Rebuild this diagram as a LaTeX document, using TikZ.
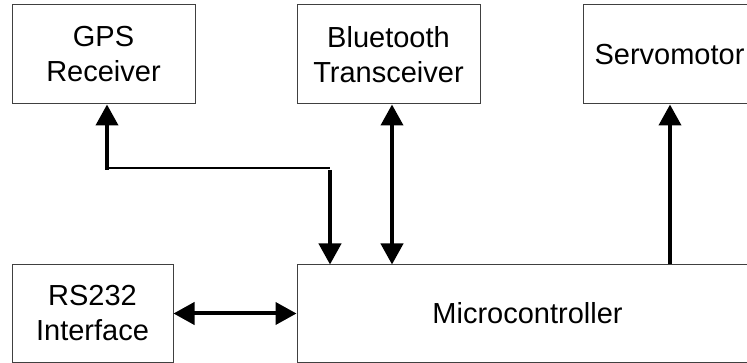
\documentclass[tikz,border=0pt]{standalone}
\usepackage{fontspec}
\setmainfont{Liberation Sans}
\usetikzlibrary{arrows.meta}
\begin{document}
\begin{tikzpicture}[x=1pt,y=-1pt,
  block/.style={draw=black!75, line width=1pt, fill=white, inner sep=0pt,
    align=center, font=\fontsize{29}{35}\selectfont},
  bus/.style={line width=4pt, -{Triangle[width=22pt,length=21pt]}},
  dbus/.style={line width=4pt, {Triangle[width=22pt,length=21pt]}-{Triangle[width=22pt,length=21pt]}},
  wire/.style={line width=1.3pt}]
  \useasboundingbox (0,0) rectangle (747,363);
  \clip (0,0) rectangle (747,363);

  % blocks
  \node[block, minimum width=183pt, minimum height=99pt] (gps) at (103.5,54.5) {GPS\\Receiver};
  \node[block, minimum width=183pt, minimum height=99pt] (bt) at (388.5,54.5) {Bluetooth\\Transceiver};
  \node[block, minimum width=173pt, minimum height=99pt] (servo) at (669.5,54.5) {Servomotor};
  \node[block, minimum width=161pt, minimum height=97pt] (rs) at (92.5,313.5) {RS232\\Interface};
  \node[block, minimum width=461pt, minimum height=97pt] (mcu) at (527.5,313.5) {Microcontroller};

  % routing points
  \coordinate (gpsfoot) at (107,170);
  \coordinate (bend) at (330,168);
  \coordinate (btx) at (392,0);
  \coordinate (servox) at (670,0);

  % GPS receiver <-> microcontroller
  \draw[bus] (gpsfoot) -- (gpsfoot |- gps.south);
  \draw[wire] (gpsfoot |- bend) -- (bend);
  \draw[bus] ([yshift=-2pt]bend) -- (bend |- mcu.north);

  % Bluetooth transceiver <-> microcontroller
  \draw[dbus] (btx |- bt.south) -- (btx |- mcu.north);

  % microcontroller -> servomotor
  \draw[bus] (servox |- mcu.north) -- (servox |- servo.south);

  % RS232 interface <-> microcontroller
  \draw[dbus] (rs.east) -- (mcu.west);
\end{tikzpicture}
\end{document}
